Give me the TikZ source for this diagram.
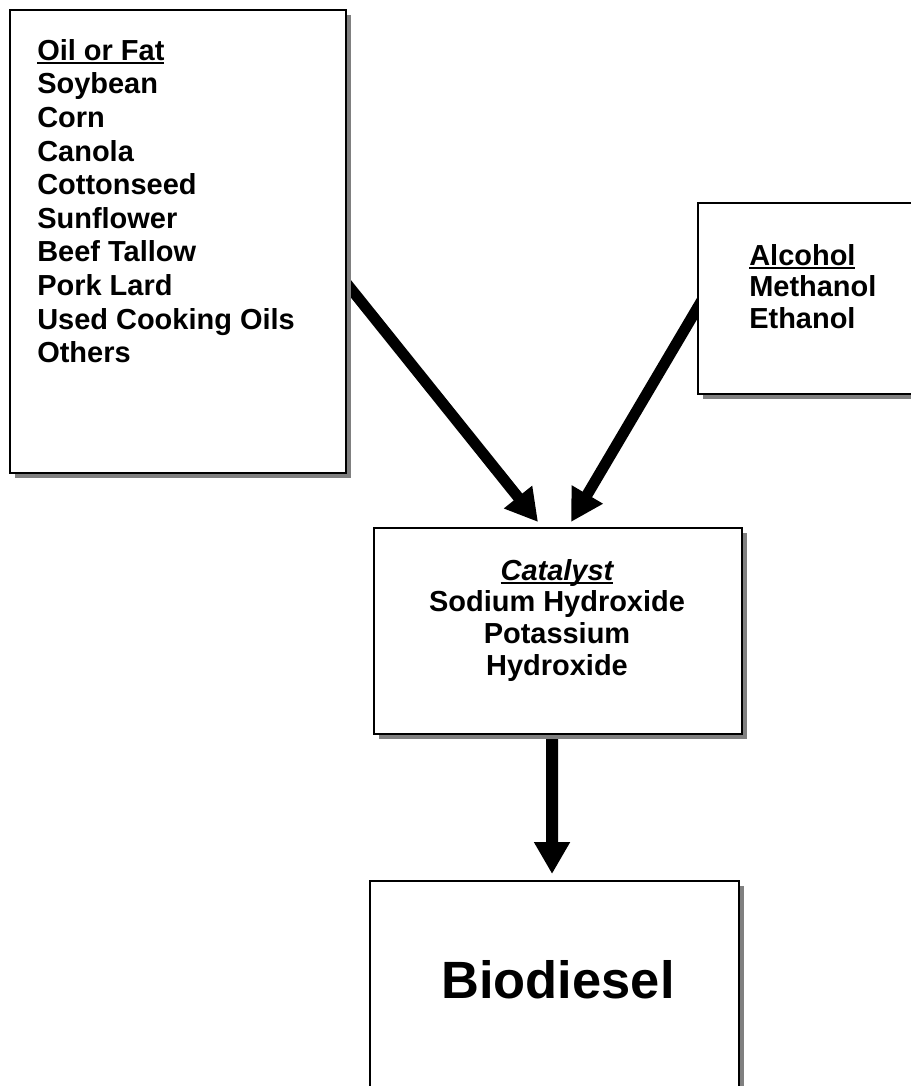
\documentclass[tikz,border=0pt]{standalone}
\usepackage{fontspec}
\setmainfont{Liberation Sans}
\usetikzlibrary{arrows.meta,shadows,backgrounds}
\newcommand{\undl}[1]{\setbox0=\hbox{#1}\rlap{\rule[-2.6pt]{\wd0}{1.5pt}}\box0}

\tikzset{
  flowbox/.style={draw, line width=1.4pt, fill=white, inner sep=0pt, anchor=north west,
    drop shadow={shadow xshift=0.125cm, shadow yshift=-0.125cm, fill=black!50, opacity=1}},
  boxtext/.style={inner sep=0pt, font=\fontsize{20.6}{23.9}\selectfont\bfseries},
  feed/.style={line width=0.275cm, -{Triangle[length=0.8cm, width=0.85cm]}}
}

\begin{document}
\begin{tikzpicture}[x=0.025cm, y=-0.025cm]
\useasboundingbox (0,0) rectangle (911,1086);
\clip (0,0) rectangle (911,1086);

% boxes
\node[flowbox, minimum width=8.4cm, minimum height=11.575cm] (oil) at (9,9) {};
\node[flowbox, minimum width=6cm, minimum height=4.775cm] (alc) at (697,202) {};
\node[flowbox, minimum width=9.2cm, minimum height=5.15cm] (cat) at (373,527) {};
\node[flowbox, minimum width=9.225cm, minimum height=6.5cm] (bio) at (369,880) {};

\node[boxtext, anchor=north west, align=left] (oiltext) at (37,39)
  {\undl{Oil or Fat}\\Soybean\\Corn\\Canola\\Cottonseed\\Sunflower\\Beef Tallow\\Pork Lard\\Used Cooking Oils\\Others};

\node[boxtext, anchor=north west, align=left, font=\fontsize{20.6}{22.5}\selectfont\bfseries] (alctext) at (749,244)
  {\undl{Alcohol}\\Methanol\\Ethanol};

\node[boxtext, anchor=north, align=center, font=\fontsize{20.6}{22.5}\selectfont\bfseries] (cattext) at (557,559)
  {\undl{\itshape Catalyst}\\Sodium Hydroxide\\Potassium\\Hydroxide};

\node[boxtext, anchor=north, font=\fontsize{37.3}{40}\selectfont\bfseries] (biotext) at (558,960) {Biodiesel};

% arrows
\begin{scope}[on background layer]
\draw[feed] ([xshift=-0.15cm, yshift=-0.875cm]oil.east) -- ([xshift=-0.5cm, yshift=0.125cm]cat.north);
\draw[feed] ([xshift=0.15cm]alc.west) -- ([xshift=0.325cm, yshift=0.125cm]cat.north);
\draw[feed, line width=0.3cm] ([xshift=-0.15cm]cat.south) -- ([xshift=-0.0625cm, yshift=0.15cm]bio.north);
\end{scope}
\end{tikzpicture}
\end{document}
